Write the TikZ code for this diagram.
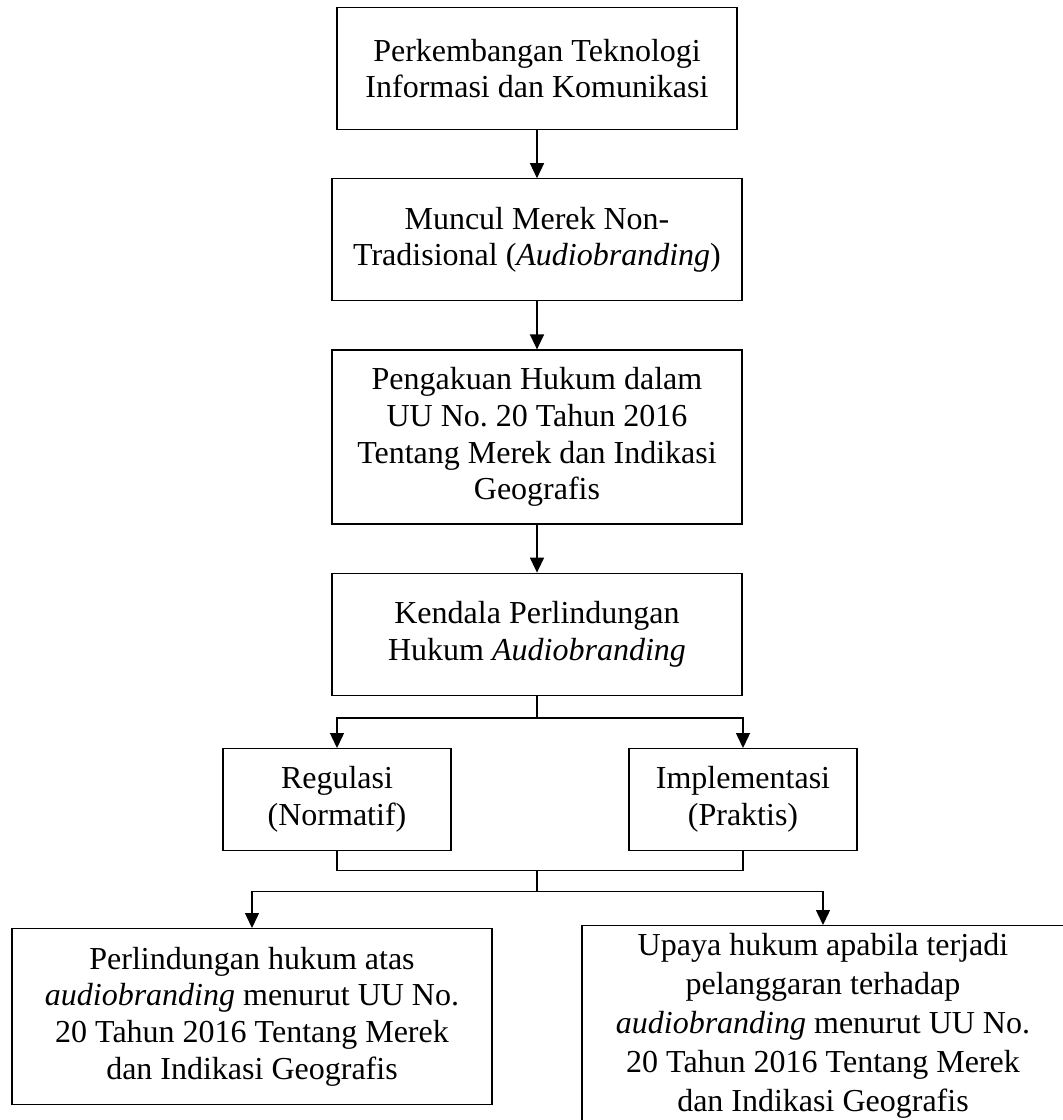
\documentclass[tikz,border=0pt]{standalone}
\usepackage{fontspec}
\setmainfont{Liberation Serif}
\usetikzlibrary{arrows.meta, positioning, calc}

\begin{document}
\begin{tikzpicture}[x=0.5pt, y=-0.5pt]
	\tikzset{>={Triangle[length=7.5pt, width=7pt]}, node distance=24pt,
		box/.style={draw, line width=0.6pt, align=center, inner sep=4pt,
			font=\fontsize{16}{18.35}\selectfont, minimum width=205pt, minimum height=61pt},
		line/.style={line width=0.7pt}}
	\useasboundingbox (0,0) rectangle (1063,1120);
	\clip (0,0) rectangle (1063,1120);

	\node[box, minimum width=200pt, anchor=north] (T) at (537,7) {Perkembangan Teknologi\\Informasi dan Komunikasi};
	\node[box, below=of T] (M) {Muncul Merek Non-\\Tradisional (\textit{Audiobranding})};
	\node[box, below=of M, minimum height=87pt] (P) {Pengakuan Hukum dalam\\UU No.\ 20 Tahun 2016\\Tentang Merek dan Indikasi\\Geografis};
	\node[box, below=of P] (K) {Kendala Perlindungan\\Hukum \textit{Audiobranding}};
	\node[box, minimum width=114pt, minimum height=51pt, anchor=north] (R) at (337,748) {Regulasi\\(Normatif)};
	\node[box, minimum width=114pt, minimum height=51pt, anchor=north] (I) at (743,748) {Implementasi\\(Praktis)};
	\node[box, minimum width=240pt, minimum height=88pt, anchor=north] (L) at (252,928) {Perlindungan hukum atas\\\textit{audiobranding} menurut UU No.\\20 Tahun 2016 Tentang Merek\\dan Indikasi Geografis};
	\node[box, minimum width=241pt, minimum height=0pt, anchor=north,
		font=\fontsize{16}{19.4}\selectfont] (U) at (823,925) {Upaya hukum apabila terjadi\\pelanggaran terhadap\\\textit{audiobranding} menurut UU No.\\20 Tahun 2016 Tentang Merek\\dan Indikasi Geografis\\ \mbox{}};

	\draw[->, line] (T) -- (M);
	\draw[->, line] (M) -- (P);
	\draw[->, line] (P) -- (K);
	\draw[->, line] (K.south) -- ++(0,22) -| (R);
	\draw[->, line] (K.south) -- ++(0,22) -| (I);
	\draw[line] (R.south) -- ++(0,19) -| (I.south);
	\coordinate (G) at ($(K.south |- R.south)+(0,19)$);
	\draw[->, line] (G) -- ++(0,21) -| (L);
	\draw[->, line] (G) -- ++(0,21) -| (U);
\end{tikzpicture}
\end{document}
